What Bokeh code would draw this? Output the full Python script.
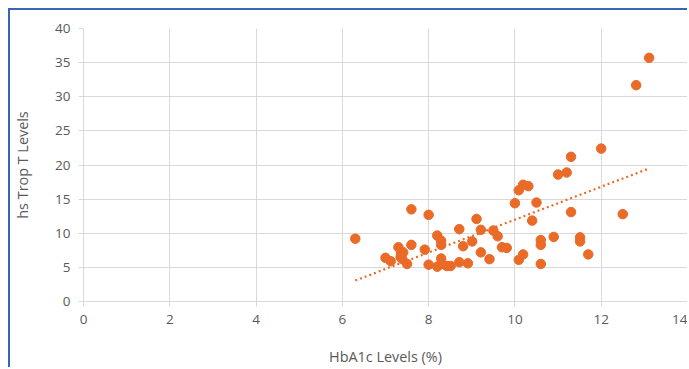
import numpy as np
from bokeh.plotting import figure
from bokeh.models import ColumnDataSource, FixedTicker, Range1d
from bokeh.embed import file_html
from bokeh.resources import INLINE

hba1c = [6.3, 7.0, 7.12, 7.3, 7.35, 7.41, 7.5, 7.6, 7.6, 7.91, 8.0, 8.0, 8.2, 8.2,
         8.29, 8.29, 8.29, 8.29, 8.42, 8.51, 8.71, 8.71, 8.8, 8.91, 9.01, 9.11, 9.21,
         9.21, 9.41, 9.5, 9.6, 9.7, 9.81, 10.0, 10.09, 10.19, 10.31, 10.09, 10.19,
         10.4, 10.5, 10.6, 10.6, 10.6, 10.9, 11.0, 11.2, 11.3, 11.3, 11.51, 11.51,
         11.7, 12.0, 12.5, 12.81, 13.11, 7.36, 7.39]
trop_t = [9.2, 6.4, 5.9, 7.95, 6.5, 7.2, 5.5, 13.5, 8.3, 7.6, 12.7, 5.4, 9.66, 5.1,
          8.9, 8.3, 6.3, 5.5, 5.2, 5.2, 10.6, 5.76, 8.1, 5.6, 8.8, 12.1, 10.5,
          7.2, 6.2, 10.4, 9.56, 7.95, 7.85, 14.4, 16.3, 17.1, 16.9, 6.1, 6.9,
          11.85, 14.5, 9.0, 8.3, 5.5, 9.46, 18.6, 18.9, 21.2, 13.1, 9.4, 8.8,
          6.9, 22.4, 12.8, 31.7, 35.7, 7.0, 6.2]

x_ticks = [0, 2, 4, 6, 8, 10, 12, 14]
y_ticks = [0, 5, 10, 15, 20, 25, 30, 35, 40]

orange = "#EA6A27"
gray_text = "#595959"
grid = "#d9d9d9"

p = figure(width=679, height=359, output_backend="svg", toolbar_location=None,
           x_range=Range1d(0, 14), y_range=Range1d(0, 40),
           min_border_left=73, min_border_right=2, min_border_top=18, min_border_bottom=68)
p.styles = {"border-left": "2px solid #3a64b4", "border-top": "2px solid #3a64b4",
            "margin-left": "8px", "margin-top": "8px"}
p.outline_line_color = None

src = ColumnDataSource(dict(x=hba1c, y=trop_t))
p.scatter("x", "y", source=src, size=9.5, fill_color=orange, line_color=orange)

slope, intercept = np.polyfit(hba1c, trop_t, 1)
tx = [min(hba1c), max(hba1c)]
ty = [slope * v + intercept for v in tx]
p.line(tx, ty, line_color=orange, line_width=2.2, line_dash="2 3")

for ax in (p.xaxis[0], p.yaxis[0]):
    ax.axis_line_color = grid
    ax.major_tick_line_color = grid
    ax.major_tick_out = 5
    ax.major_tick_in = 0
    ax.minor_tick_line_color = None
    ax.major_label_text_color = gray_text
    ax.major_label_text_font = "Open Sans"
    ax.major_label_text_font_size = "13.5px"
    ax.axis_label_text_color = gray_text
    ax.axis_label_text_font = "Open Sans"
    ax.axis_label_text_font_size = "14.4px"
    ax.axis_label_text_font_style = "normal"

p.xaxis.ticker = FixedTicker(ticks=x_ticks)
p.yaxis.ticker = FixedTicker(ticks=y_ticks)
p.xaxis.axis_label = "HbA1c Levels (%)"
p.yaxis.axis_label = "hs Trop T Levels"
p.xaxis.major_label_standoff = 8
p.yaxis.major_label_standoff = 8
p.xaxis.axis_label_standoff = 20
p.yaxis.axis_label_standoff = 20
p.xgrid.grid_line_color = grid
p.ygrid.grid_line_color = grid

open("out.html", "w").write(file_html(p, INLINE))
